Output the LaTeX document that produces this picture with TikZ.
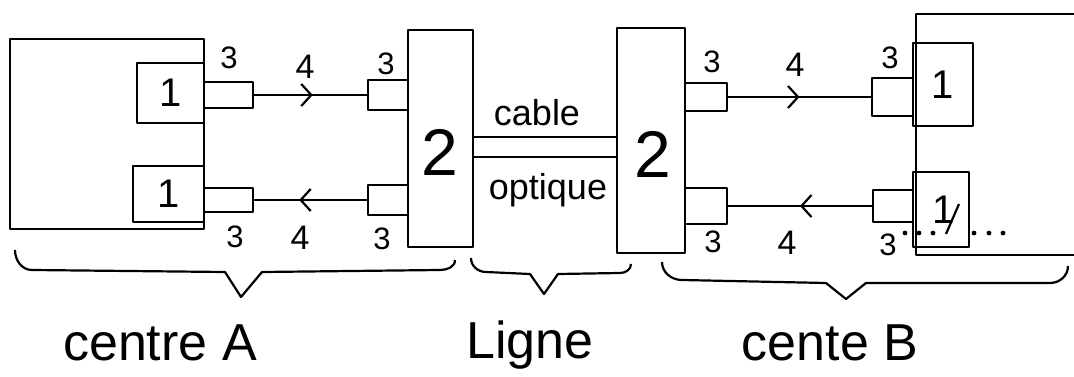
\documentclass[tikz,border=0pt]{standalone}
\usepackage{fontspec}
\setmainfont{Liberation Sans}
\usetikzlibrary{positioning,fit,arrows.meta,decorations.markings}

\tikzset{
  blk/.style={draw, inner sep=0pt},
  unitno/.style={font=\fontsize{40}{40}\selectfont},
  muxno/.style={font=\fontsize{66}{66}\selectfont},
  portno/.style={font=\fontsize{31}{31}\selectfont},
  fibno/.style={font=\fontsize{34}{34}\selectfont},
  cabletxt/.style={font=\fontsize{36}{36}\selectfont},
  sitetxt/.style={font=\fontsize{52}{52}\selectfont},
  fibre/.style={postaction={decorate}, decoration={markings,
      mark=at position #1 with {\arrow{Straight Barb[length=10pt,width=22pt]}}}},
  fibre/.default=0.5,
}

\begin{document}
\begin{tikzpicture}[x=1pt, y=-1pt, line width=2.2pt, line join=round]
  \useasboundingbox (0,0) rectangle (1074,377);

  % centre A
  \node[blk, fit={(10,39) (204,229)}] (cA) {};
  \node[blk, fit={(137,63) (204,123)}] (uA1) {};
  \node[blk, fit={(133,166) (204,222)}] (uA2) {};
  \node[blk, fit={(204,82) (253,108)}] (pA1) {};
  \node[blk, fit={(204,188) (253,212)}] (pA2) {};
  \node[blk, fit={(368,80) (408,110)}] (qA1) {};
  \node[blk, fit={(368,185) (408,215)}] (qA2) {};
  \node[blk, fit={(408,30) (473,247)}] (mA) {};
  \node[unitno] (tA1) at (uA1) {1};
  \node[unitno] (tA2) at (uA2) {1};
  \node[muxno] (tmA) at (440,152) {2};

  % centre B
  \node[blk, fit={(617,28) (685,253)}] (mB) {};
  \node[blk, fit={(685,83) (727,111)}] (qB1) {};
  \node[blk, fit={(685,188) (727,224)}] (qB2) {};
  \node[blk, fit={(872,78) (913,116)}] (pB1) {};
  \node[blk, fit={(873,190) (913,222)}] (pB2) {};
  \draw (1074,14) -- (916,14) -- (916,255) -- (1074,255);
  \node[blk, fit={(913,43) (973,126)}] (uB1) {};
  \node[blk, fit={(913,172) (969,247)}] (uB2) {};
  \node[muxno] (tmB) at (653,154) {2};
  \node[unitno] (tB1) at (uB1) {1};
  \node[unitno] (tB2) at (944,210) {1};
  \draw (946,234) -- (959,204);
  \foreach \dx in {905,919,933,974,989,1003}
    \fill (\dx,233) circle (2.4pt);

  % fibres
  \draw[fibre=0.52] (pA1.east) -- (qA1.west);
  \draw[fibre=0.6] (qA2.west) -- (pA2.east);
  \draw[fibre] (qB1.east) -- (pB1.west);
  \draw[fibre] (pB2.west) -- (qB2.east);

  % ligne
  \draw (mA.east |- 0,137) -- (mB.west |- 0,137);
  \draw (mA.east |- 0,157) -- (mB.west |- 0,157);
  \node[cabletxt] (cbl) at (537,113) {cable};
  \node[cabletxt] (opt) at (548,190) {optique};

  % port and fibre numbers
  \node[portno] (nA1) at (229,58) {3};
  \node[fibno] (fA1) at (305,67) {4};
  \node[portno] (nA2) at (386,64) {3};
  \node[portno] (nA3) at (235,237) {3};
  \node[fibno] (fA2) at (300,238) {4};
  \node[portno] (nA4) at (382,239) {3};
  \node[portno] (nB1) at (712,62) {3};
  \node[fibno] (fB1) at (795,65) {4};
  \node[portno] (nB2) at (890,58) {3};
  \node[portno] (nB3) at (713,242) {3};
  \node[fibno] (fB2) at (787,243) {4};
  \node[portno] (nB4) at (888,245) {3};

  % braces
  \draw (15,250) to[out=-90,in=180] (32,270) -- (225,272) -- (241,297)
    -- (262,272) -- (440,270) to[out=0,in=-90] (455,260);
  \draw (471,258) to[out=-90,in=180] (486,272) -- (530,274) -- (544,294)
    -- (558,274) -- (620,273) to[out=0,in=-90] (631,264);
  \draw (662,262) to[out=-90,in=180] (682,280) -- (826,283) -- (846,299)
    -- (866,283) -- (1050,283) to[out=0,in=-90] (1068,266);
  \node[sitetxt] (sA) at (160,343) {centre A};
  \node[sitetxt] (sL) at (530,345) {Ligne};
  \node[sitetxt] (sB) at (830,343) {cente B};
\end{tikzpicture}
\end{document}
